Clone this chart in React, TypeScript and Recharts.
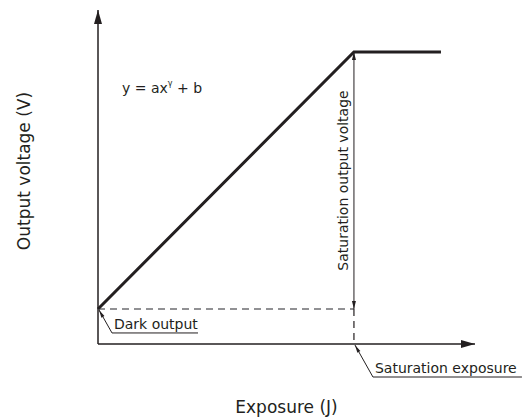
import { LineChart, Line, XAxis, YAxis, ReferenceLine, ReferenceDot } from "recharts";

// response curve: dark output -> linear rise -> saturation plateau
const exposure = [0, 1, 1.34];
const outputVoltage = [0.12, 1, 1];

const DARK_OUTPUT = 0.12;
const SAT_EXPOSURE = 1;
const SAT_VOLTAGE = 1;
const X_MAX = 1.473;
const Y_MAX = 1.144;

const xTitle = "Exposure (J)";
const yTitle = "Output voltage (V)";

const data = exposure.map((x, i) => ({ exposure: x, voltage: outputVoltage[i] }));

const INK = "#231f20";
const DASH = "#6d6e71";
const FONT = "'DejaVu Sans', Verdana, sans-serif";

type ArrowOpts = { len: number; width: number; start?: boolean; end?: boolean };

const head = (tx: number, ty: number, fx: number, fy: number, len: number, width: number) => {
  const dx = tx - fx;
  const dy = ty - fy;
  const d = Math.hypot(dx, dy) || 1;
  const ux = dx / d;
  const uy = dy / d;
  const bx = tx - ux * len;
  const by = ty - uy * len;
  const nx = -uy * (width / 2);
  const ny = ux * (width / 2);
  return `${tx},${ty} ${bx + nx},${by + ny} ${bx - nx},${by - ny}`;
};

const arrowShape = (opts: ArrowOpts, stroke: string, strokeWidth: number) => (p: any) => {
  const { x1, y1, x2, y2 } = p;
  if ([x1, y1, x2, y2].some((v) => typeof v !== "number")) return <g />;
  return (
    <g>
      <line x1={x1} y1={y1} x2={x2} y2={y2} stroke={stroke} strokeWidth={strokeWidth} />
      {opts.end && <polygon points={head(x2, y2, x1, y1, opts.len, opts.width)} fill={stroke} />}
      {opts.start && <polygon points={head(x1, y1, x2, y2, opts.len, opts.width)} fill={stroke} />}
    </g>
  );
};

// callout: small arrow at the point, slanted leader, underlined caption
const callout = (text: string, dx: number, dy: number, underline: number) => (p: any) => {
  const { cx, cy } = p;
  if (typeof cx !== "number" || typeof cy !== "number") return <g />;
  const sx = cx + 1;
  const sy = cy + 1;
  const ex = cx + dx;
  const ey = cy + dy;
  return (
    <g>
      <polygon points={head(sx, sy, ex, ey, 8, 3.5)} fill={INK} />
      <polyline points={`${sx},${sy} ${ex},${ey} ${ex + underline},${ey}`} fill="none" stroke={INK} strokeWidth={1} />
      <text x={ex + 2} y={ey - 4} fontFamily={FONT} fontSize={14} fill={INK}>
        {text}
      </text>
    </g>
  );
};

const equation = (p: any) => {
  const { cx, cy } = p;
  if (typeof cx !== "number" || typeof cy !== "number") return <g />;
  return (
    <text x={cx + 24} y={cy + 41} fontFamily={FONT} fontSize={14} fill={INK}>
      y = ax
      <tspan fontSize={8} dy={-7}>γ</tspan>
      <tspan dy={7}> + b</tspan>
    </text>
  );
};

export default function App() {
  return (
    <div style={{ position: "absolute", left: 0, top: 0, background: "#fff" }}>
      <LineChart width={525} height={419} data={data} margin={{ top: 10, right: 50, left: 0, bottom: 0 }}>
        <XAxis
          dataKey="exposure"
          type="number"
          domain={[0, X_MAX]}
          height={75}
          tick={false}
          tickLine={false}
          axisLine={false}
          label={{
            content: (p: any) => {
              const vb = p.viewBox || { x: 98, y: 344, width: 377, height: 75 };
              return (
                <text x={vb.x + vb.width / 2} y={vb.y + 69} textAnchor="middle" fontFamily={FONT} fontSize={17} fill={INK}>
                  {xTitle}
                </text>
              );
            },
          }}
        />
        <YAxis
          type="number"
          domain={[0, Y_MAX]}
          width={98}
          tick={false}
          tickLine={false}
          axisLine={false}
          label={{
            content: (p: any) => {
              const vb = p.viewBox || { x: 0, y: 10, width: 98, height: 334 };
              const x = vb.x + 30;
              const y = vb.y + vb.height / 2 - 6;
              return (
                <text x={x} y={y} textAnchor="middle" transform={`rotate(-90 ${x} ${y})`} fontFamily={FONT} fontSize={17} fill={INK}>
                  {yTitle}
                </text>
              );
            },
          }}
        />

        {/* axes with arrowheads */}
        <ReferenceLine
          segment={[{ x: 0, y: 0 }, { x: X_MAX, y: 0 }]}
          ifOverflow="visible"
          shape={arrowShape({ len: 14, width: 8, end: true }, INK, 1.5)}
        />
        <ReferenceLine
          segment={[{ x: 0, y: 0 }, { x: 0, y: Y_MAX }]}
          ifOverflow="visible"
          shape={arrowShape({ len: 14, width: 8, end: true }, INK, 1.5)}
        />

        {/* dark level and saturation exposure guides */}
        <ReferenceLine
          segment={[{ x: 0, y: DARK_OUTPUT }, { x: SAT_EXPOSURE, y: DARK_OUTPUT }]}
          ifOverflow="visible"
          stroke={DASH}
          strokeWidth={1.5}
          strokeDasharray="7 5"
        />
        <ReferenceLine
          segment={[{ x: SAT_EXPOSURE, y: DARK_OUTPUT }, { x: SAT_EXPOSURE, y: 0 }]}
          ifOverflow="visible"
          stroke={INK}
          strokeWidth={1.2}
          strokeDasharray="7 5"
        />

        {/* saturation output voltage span */}
        <ReferenceLine
          segment={[{ x: SAT_EXPOSURE, y: DARK_OUTPUT }, { x: SAT_EXPOSURE, y: SAT_VOLTAGE }]}
          ifOverflow="visible"
          shape={arrowShape({ len: 8, width: 4, start: true, end: true }, INK, 1)}
          label={{
            content: (p: any) => {
              const vb = p.viewBox;
              if (!vb) return null;
              const x = vb.x - 6;
              const y = vb.y + vb.height / 2;
              return (
                <text x={x} y={y} textAnchor="middle" transform={`rotate(-90 ${x} ${y})`} fontFamily={FONT} fontSize={14} fill={INK}>
                  Saturation output voltage
                </text>
              );
            },
          }}
        />

        <Line
          type="linear"
          dataKey="voltage"
          stroke={INK}
          strokeWidth={3}
          dot={false}
          activeDot={false}
          isAnimationActive={false}
        />

        <ReferenceDot x={0} y={SAT_VOLTAGE} ifOverflow="visible" shape={equation} />
        <ReferenceDot x={0} y={DARK_OUTPUT} ifOverflow="visible" shape={callout("Dark output", 14, 24, 86)} />
        <ReferenceDot x={SAT_EXPOSURE} y={0} ifOverflow="visible" shape={callout("Saturation exposure", 19, 33, 149)} />
      </LineChart>
    </div>
  );
}
